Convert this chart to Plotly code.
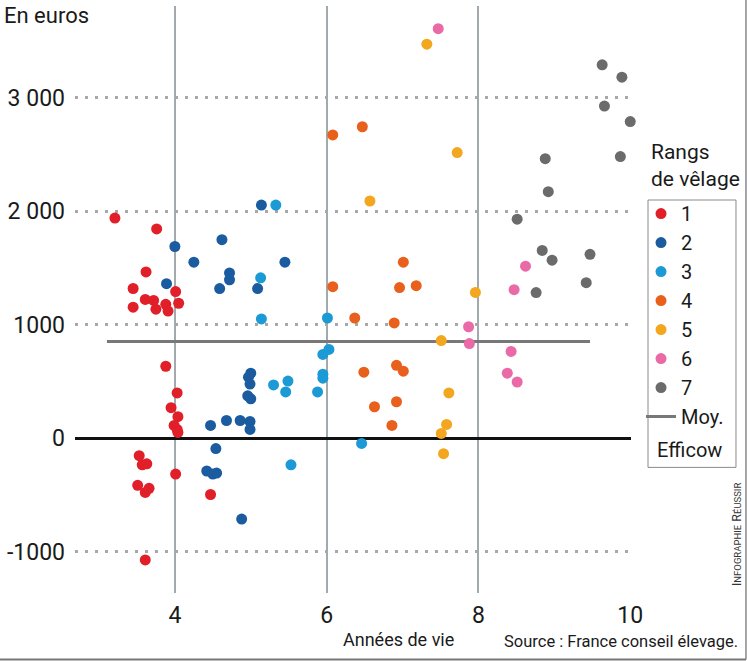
import plotly.graph_objects as go

# ---- Data ----
rang1_x = [3.21, 3.76, 3.62, 3.45, 3.61, 3.72, 3.45, 3.75, 3.88, 3.91, 4.01, 4.05, 3.88, 4.03,
           3.95, 4.04, 3.99, 4.03, 4.04, 3.53, 3.57, 3.63, 4.01, 3.51, 3.61, 3.66, 4.47, 3.61]
rang1_y = [1940, 1845, 1466, 1320, 1224, 1215, 1155, 1138, 1181, 1121, 1293, 1190, 635, 400,
           270, 191, 113, 78, 52, -153, -234, -225, -315, -414, -477, -441, -495, -1072]

rang2_x = [5.14, 4.62, 4.00, 4.25, 5.45, 4.72, 4.72, 3.89, 4.59, 5.09, 5.00, 4.97, 4.99, 4.96,
           5.00, 4.47, 4.68, 4.86, 4.99, 4.99, 4.54, 4.42, 4.50, 4.55, 4.88]
rang2_y = [2055, 1750, 1690, 1552, 1552, 1457, 1397, 1362, 1319, 1319, 574, 539, 478, 374,
           348, 113, 157, 157, 148, 78, -90, -288, -315, -306, -712]

rang3_x = [5.33, 5.13, 5.14, 5.30, 5.49, 5.46, 5.53, 6.01, 5.95, 6.03, 5.95, 5.95, 5.88, 6.46]
rang3_y = [2055, 1414, 1052, 470, 504, 409, -234, 1060, 739, 783, 565, 530, 409, -45]

rang4_x = [6.47, 6.08, 7.01, 6.08, 6.96, 7.18, 6.37, 6.89, 6.92, 7.01, 6.49, 6.92, 6.63, 6.86]
rang4_y = [2745, 2673, 1552, 1336, 1328, 1345, 1060, 1017, 643, 591, 583, 322, 278, 113]

rang5_x = [7.32, 7.72, 6.57, 7.96, 7.51, 7.61, 7.58, 7.51, 7.54]
rang5_y = [3473, 2518, 2091, 1285, 861, 400, 122, 43, -135]

rang6_x = [7.47, 8.62, 8.47, 7.87, 7.88, 8.43, 8.38, 8.51]
rang6_y = [3609, 1517, 1310, 983, 835, 765, 574, 496]

rang7_x = [9.63, 9.89, 9.66, 10.0, 8.88, 9.87, 8.92, 8.51, 8.84, 8.97, 9.47, 9.42, 8.76]
rang7_y = [3291, 3182, 2927, 2791, 2464, 2482, 2173, 1931, 1655, 1569, 1621, 1371, 1284]

moy_x = [3.105, 9.47]
moy_y = [852, 852]

series_names = ["1", "2", "3", "4", "5", "6", "7"]
series_colors = ["#e11f28", "#1b5b9f", "#1b9ad6", "#e8601c", "#f2a71e", "#ea6aa7", "#6b6b6b"]

x_ticks = [4, 6, 8, 10]
x_ticklabels = ["4", "6", "8", "10"]
y_ticks = [-1000, 0, 1000, 2000, 3000]
y_ticklabels = ["-1000", "0", "1000", "2 000", "3 000"]

FONT = "Roboto, Liberation Sans, sans-serif"

fig = go.Figure()

fig.add_trace(go.Scatter(x=moy_x, y=moy_y, mode="lines", name="Moy.",
                         line=dict(color="#787878", width=3), legendrank=8,
                         hoverinfo="skip"))

xs_all = [rang1_x, rang2_x, rang3_x, rang4_x, rang5_x, rang6_x, rang7_x]
ys_all = [rang1_y, rang2_y, rang3_y, rang4_y, rang5_y, rang6_y, rang7_y]
for i, (nm, xs, ys, col) in enumerate(zip(series_names, xs_all, ys_all, series_colors)):
    fig.add_trace(go.Scatter(x=xs, y=ys, mode="markers", name=nm, legendrank=i + 1,
                             marker=dict(color=col, size=11, line=dict(width=0)),
                             cliponaxis=False))

fig.update_layout(
    width=747, height=661,
    margin=dict(l=75, r=116, t=6, b=68, autoexpand=False),
    paper_bgcolor="white", plot_bgcolor="white",
    font=dict(family=FONT, color="#1a1a1a", size=22),
    showlegend=True,
    legend=dict(x=1.018, y=0.6797, xanchor="left", yanchor="top",
                borderwidth=0, bgcolor="rgba(0,0,0,0)",
                font=dict(size=20, family=FONT), tracegroupgap=0, itemwidth=30),
    xaxis=dict(range=[2.684, 10.01], tickmode="array", tickvals=x_ticks, ticktext=x_ticklabels,
               showgrid=True, gridcolor="#a3aaae", gridwidth=2, zeroline=False, showline=False,
               ticks="", ticklabelstandoff=6, tickfont=dict(size=23, family=FONT)),
    yaxis=dict(range=[-1363, 3809], tickmode="array", tickvals=y_ticks, ticktext=y_ticklabels,
               showgrid=True, gridcolor="#a8a8a8", gridwidth=3, griddash="3px,7px",
               zeroline=True, zerolinecolor="#111111", zerolinewidth=3, showline=False,
               ticks="", ticklabelstandoff=9, tickfont=dict(size=23, family=FONT)),
)

# legend frame (box around the legend entries)
fig.add_shape(type="rect", xref="paper", yref="paper", x0=1.0306, x1=1.1888,
              y0=0.2140, y1=0.6695, line=dict(color="#8a8a8a", width=1))

fig.add_annotation(text="En euros", xref="paper", yref="paper", x=-0.1313, y=1.008,
                   xanchor="left", yanchor="top", showarrow=False, font=dict(size=22))
fig.add_annotation(text="Rangs<br>de vêlage", xref="paper", yref="paper", x=1.032, y=0.775,
                   xanchor="left", yanchor="top", align="left", showarrow=False,
                   font=dict(size=21))
fig.add_annotation(text="Efficow", xref="paper", yref="paper", x=1.0432, y=0.2436,
                   xanchor="left", yanchor="middle", showarrow=False, font=dict(size=20))
fig.add_annotation(text="Années de vie", xref="paper", yref="paper", x=0.581, y=-0.080,
                   xanchor="center", yanchor="middle", showarrow=False, font=dict(size=18))
fig.add_annotation(text="Source : France conseil élevage.", xref="paper", yref="paper",
                   x=1.1965, y=-0.082, xanchor="right", yanchor="middle", showarrow=False,
                   font=dict(size=16.5))
fig.add_annotation(text="I<span style='font-size:9.5px'>NFOGRAPHIE</span> R<span style='font-size:9.5px'>ÉUSSIR</span>",
                   xref="paper", yref="paper", x=1.191, y=0.099, textangle=-90,
                   xanchor="center", yanchor="middle", showarrow=False,
                   font=dict(size=12.5, color="#333"))

# figure frame lines (right and bottom)
fig.add_shape(type="line", xref="paper", yref="paper", x0=1.2068, x1=1.2068, y0=-0.1133, y1=1.0102,
              line=dict(color="#888", width=1.5))
fig.add_shape(type="line", xref="paper", yref="paper", x0=-0.1349, x1=1.2068, y0=-0.1133, y1=-0.1133,
              line=dict(color="#777", width=2))

fig.write_html("out.html", config={"displayModeBar": False},
               post_script="document.body.style.margin='0';")
